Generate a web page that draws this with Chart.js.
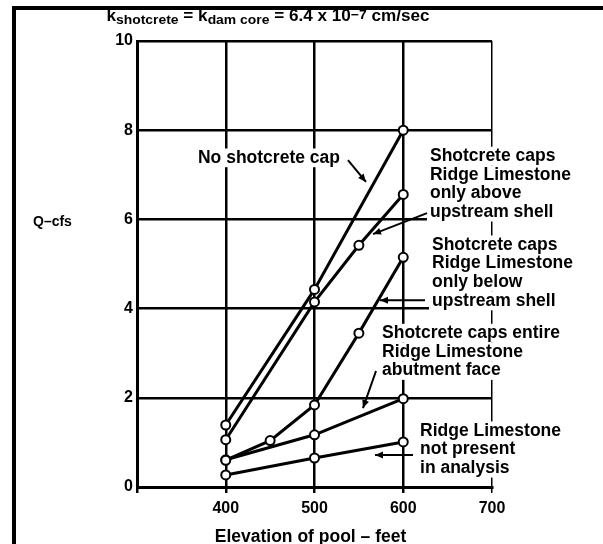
<!DOCTYPE html>
<html>
<head>
<meta charset="utf-8">
<script src="https://cdn.jsdelivr.net/npm/chart.js@4/dist/chart.umd.min.js"></script>
<style>
  html, body { margin: 0; padding: 0; background: #fff; }
  canvas { display: block; }
</style>
</head>
<body>
<canvas id="chart" width="603" height="544"></canvas>
<script>
// Pool elevation (ft) and seepage Q (cfs) for each analysis case
const noCapElev    = [400, 500, 600];
const noCapQ       = [1.39, 4.43, 8.0];
const aboveElev    = [400, 500, 550, 600];
const aboveQ       = [1.06, 4.15, 5.42, 6.56];
const belowElev    = [400, 450, 500, 550, 600];
const belowQ       = [0.60, 1.04, 1.84, 3.45, 5.15];
const entireElev   = [400, 500, 600];
const entireQ      = [0.61, 1.17, 1.98];
const noRidgeElev  = [400, 500, 600];
const noRidgeQ     = [0.27, 0.65, 1.01];

const xTickLabels = [400, 500, 600, 700];
const yTickLabels = [0, 2, 4, 6, 8, 10];

const caseLabels = {
  noCap:   ['No shotcrete cap'],
  above:   ['Shotcrete caps', 'Ridge Limestone', 'only above', 'upstream shell'],
  below:   ['Shotcrete caps', 'Ridge Limestone', 'only below', 'upstream shell'],
  entire:  ['Shotcrete caps entire', 'Ridge Limestone', 'abutment face'],
  noRidge: ['Ridge Limestone', 'not present', 'in analysis']
};

const FONT = '"Liberation Sans", Arial, Helvetica, sans-serif';

function pts(xs, ys) { return xs.map((x, i) => ({ x: x, y: ys[i] })); }

function series(xs, ys) {
  return {
    data: pts(xs, ys),
    borderColor: '#000',
    borderWidth: 3,
    backgroundColor: '#fff',
    pointRadius: 4.5,
    pointBorderWidth: 2,
    pointBorderColor: '#000',
    pointBackgroundColor: '#fff',
    tension: 0,
    fill: false
  };
}

// Callout text blocks placed in data units, with leader arrows (from -> to)
const callouts = [
  { lines: caseLabels.noCap,   x: 368.7, y: 7.38, from: [537.7, 7.33], to: [558.0, 6.84] },
  { lines: caseLabels.above,   x: 630.1, y: 7.42, from: [626.8, 6.14], to: [565.9, 5.67] },
  { lines: caseLabels.below,   x: 632.4, y: 5.43, from: [624.5, 4.19], to: [573.8, 4.19] },
  { lines: caseLabels.entire,  x: 576.1, y: 3.45, from: [569.3, 2.60], to: [554.6, 1.77] },
  { lines: caseLabels.noRidge, x: 618.9, y: 1.26, from: [611.0, 0.72], to: [568.2, 0.72] }
];

function arrow(ctx, x1, y1, x2, y2) {
  ctx.save();
  ctx.strokeStyle = '#000';
  ctx.fillStyle = '#000';
  ctx.lineWidth = 2;
  ctx.beginPath();
  ctx.moveTo(x1, y1);
  ctx.lineTo(x2, y2);
  ctx.stroke();
  const a = Math.atan2(y2 - y1, x2 - x1);
  const L = 8, W = 3.5;
  ctx.beginPath();
  ctx.moveTo(x2, y2);
  ctx.lineTo(x2 - L * Math.cos(a) + W * Math.sin(a), y2 - L * Math.sin(a) - W * Math.cos(a));
  ctx.lineTo(x2 - L * Math.cos(a) - W * Math.sin(a), y2 - L * Math.sin(a) + W * Math.cos(a));
  ctx.closePath();
  ctx.fill();
  ctx.restore();
}

const decorations = {
  id: 'decorations',
  beforeDraw(chart) {
    const ctx = chart.ctx;
    ctx.save();
    ctx.fillStyle = '#fff';
    ctx.fillRect(0, 0, chart.width, chart.height);
    ctx.restore();
  },
  afterDatasetsDraw(chart) {
    const ctx = chart.ctx;
    const xs = chart.scales.x, ys = chart.scales.y;
    ctx.save();

    // Callouts: white backing behind each text line, then the text
    const lineH = 18.7;
    ctx.font = 'bold 17.5px ' + FONT;
    ctx.textBaseline = 'middle';
    ctx.textAlign = 'left';
    callouts.forEach(c => {
      const left = xs.getPixelForValue(c.x);
      const top = ys.getPixelForValue(c.y);
      c.lines.forEach((t, i) => {
        const w = ctx.measureText(t).width;
        ctx.fillStyle = '#fff';
        ctx.fillRect(left - 3, top + i * lineH - lineH / 2, w + 6, lineH);
      });
      ctx.fillStyle = '#000';
      c.lines.forEach((t, i) => ctx.fillText(t, left, top + i * lineH));
      arrow(ctx,
        xs.getPixelForValue(c.from[0]), ys.getPixelForValue(c.from[1]),
        xs.getPixelForValue(c.to[0]), ys.getPixelForValue(c.to[1]));
    });

    // Y axis caption
    ctx.fillStyle = '#000';
    ctx.font = 'bold 14px ' + FONT;
    ctx.textAlign = 'left';
    ctx.fillText('Q\u2013cfs', 33, ys.getPixelForValue(6) + 3);

    // X axis caption
    ctx.font = 'bold 17.5px ' + FONT;
    ctx.textAlign = 'center';
    ctx.fillText('Elevation of pool \u2013 feet', (xs.left + xs.right) / 2 - 4, 537);

    // Heading: k_shotcrete = k_dam core = 6.4 x 10^-7 cm/sec
    const parts = [
      { t: 'k', f: 'bold 16px ', dy: 0 },
      { t: 'shotcrete', f: 'bold 13px ', dy: 3 },
      { t: ' = k', f: 'bold 16px ', dy: 0 },
      { t: 'dam core', f: 'bold 13px ', dy: 3 },
      { t: ' = 6.4 x 10', f: 'bold 16px ', dy: 0 },
      { t: '\u22127', f: 'bold 13px ', dy: -2 },
      { t: ' cm/sec', f: 'bold 16px ', dy: 0 }
    ];
    const sx = 1.07;
    let total = 0;
    parts.forEach(p => { ctx.font = p.f + FONT; p.w = ctx.measureText(p.t).width; total += p.w; });
    ctx.save();
    ctx.translate(268 - total * sx / 2, 17);
    ctx.scale(sx, 1);
    let x = 0;
    ctx.textAlign = 'left';
    parts.forEach(p => { ctx.font = p.f + FONT; ctx.fillText(p.t, x, p.dy); x += p.w; });
    ctx.restore();

    // Figure frame: top and left rules
    ctx.fillStyle = '#000';
    ctx.fillRect(12, 6, chart.width - 12, 4);
    ctx.fillRect(12, 6, 4, chart.height - 6);
    ctx.restore();
  }
};

new Chart(document.getElementById('chart'), {
  type: 'line',
  data: {
    datasets: [
      series(noCapElev, noCapQ),
      series(aboveElev, aboveQ),
      series(belowElev, belowQ),
      series(entireElev, entireQ),
      series(noRidgeElev, noRidgeQ)
    ]
  },
  options: {
    responsive: false,
    animation: false,
    devicePixelRatio: 1,
    layout: { padding: { top: 41, right: 111, left: 0, bottom: 0 } },
    plugins: { legend: { display: false }, tooltip: { enabled: false }, title: { display: false } },
    scales: {
      x: {
        type: 'linear',
        min: 300, max: 700,
        afterFit: s => { s.height = 57; },
        afterBuildTicks: s => { s.ticks = [300].concat(xTickLabels).map(v => ({ value: v })); },
        ticks: {
          padding: 6,
          color: '#000',
          font: { family: FONT, size: 16, weight: 'bold' },
          callback: v => (xTickLabels.includes(v) ? String(v) : '')
        },
        grid: {
          color: '#000',
          lineWidth: c => (c.tick && c.tick.value === 700 ? 1.5 : 2.5),
          drawTicks: true,
          tickLength: 6
        },
        border: { display: true, color: '#000', width: 3 }
      },
      y: {
        type: 'linear',
        min: 0, max: 10,
        afterFit: s => { s.width = 137; },
        afterBuildTicks: s => { s.ticks = yTickLabels.map(v => ({ value: v })); },
        ticks: {
          padding: 4,
          color: '#000',
          font: { family: FONT, size: 16, weight: 'bold' },
          callback: v => String(v)
        },
        grid: { color: '#000', lineWidth: 2.5, drawTicks: false },
        border: { display: true, color: '#000', width: 3 }
      }
    }
  },
  plugins: [decorations]
});
</script>
</body>
</html>
